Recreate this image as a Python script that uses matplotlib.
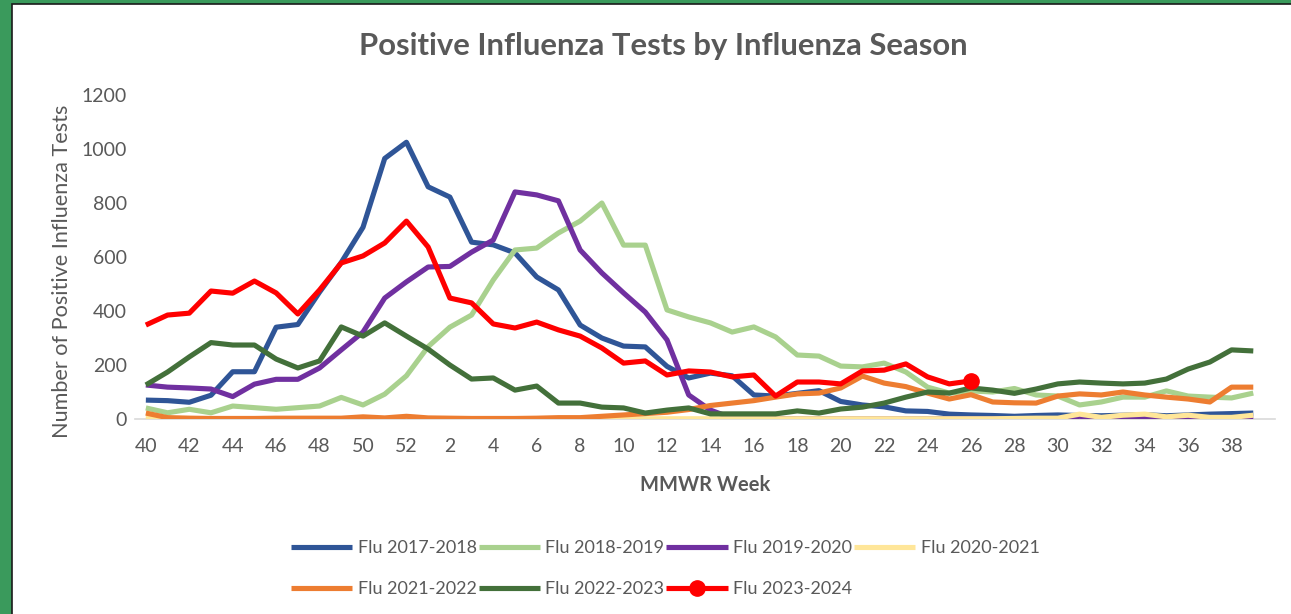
import numpy as np
import matplotlib
matplotlib.use("Agg")
from matplotlib import pyplot as plt
from matplotlib.patches import Rectangle
from matplotlib.legend_handler import HandlerLine2D

plt.rcParams['font.family'] = ['Lato', 'DejaVu Sans']

# MMWR weeks of the season (40..52, then 1..39)
weeks = list(range(40, 53)) + list(range(1, 40))

flu_2017_2018 = [70, 68, 62, 88, 175, 175, 340, 350, 470, 580,
                 710, 965, 1025, 860, 822, 655, 645, 615, 526, 478,
                 348, 300, 270, 267, 195, 152, 170, 160, 89, 85,
                 95, 105, 65, 52, 45, 30, 28, 18, 15, 13,
                 10, 13, 15, 13, 12, 14, 16, 12, 15, 18,
                 20, 22]
flu_2018_2019 = [41, 23, 36, 23, 48, 42, 36, 42, 48, 80,
                 52, 92, 160, 268, 340, 385, 515, 626, 633, 689,
                 733, 800, 644, 644, 404, 378, 356, 322, 341, 304,
                 237, 233, 196, 193, 207, 174, 118, 96, 104, 100,
                 113, 89, 85, 52, 63, 81, 81, 104, 85, 81,
                 78, 96]
flu_2019_2020 = [126, 118, 115, 111, 83, 129, 147, 147, 189, 256,
                 322, 448, 508, 563, 565, 618, 663, 841, 830, 808,
                 626, 541, 467, 396, 293, 89, 33, 3, 2, 2,
                 1, 1, 1, 1, 1, 1, 1, 1, 1, 1,
                 1, 1, 1, 10, 3, 5, 8, 3, 4, 2,
                 2, 4]
flu_2020_2021 = [10, 3, 2, 1, 1, 1, 1, 1, 1, 1,
                 1, 1, 1, 1, 1, 1, 1, 1, 1, 1,
                 1, 1, 1, 1, 1, 1, 1, 1, 1, 1,
                 1, 1, 1, 1, 1, 1, 1, 1, 1, 1,
                 2, 3, 3, 18, 6, 14, 18, 8, 14, 6,
                 6, 14]
flu_2021_2022 = [22, 5, 3, 2, 2, 2, 3, 3, 3, 3,
                 8, 4, 10, 4, 3, 2, 2, 2, 3, 5,
                 5, 10, 15, 20, 25, 35, 50, 59, 68, 81,
                 93, 96, 115, 159, 133, 120, 96, 74, 90, 63,
                 60, 59, 85, 93, 89, 100, 89, 81, 74, 63,
                 118, 118]
flu_2022_2023 = [126, 174, 230, 283, 274, 274, 222, 189, 215, 341,
                 307, 356, 307, 259, 200, 148, 152, 107, 122, 59,
                 59, 44, 41, 22, 33, 41, 19, 19, 19, 19,
                 30, 22, 37, 44, 59, 81, 100, 96, 115, 107,
                 95, 111, 130, 137, 133, 130, 133, 148, 185, 211,
                 256, 252]
# current season, through week 26
flu_2023_2024 = [348, 385, 392, 474, 466, 511, 467, 389, 478, 578,
                 604, 652, 733, 637, 448, 430, 352, 337, 359, 330,
                 307, 263, 207, 215, 163, 178, 174, 156, 163, 85,
                 137, 137, 130, 178, 181, 204, 156, 130, 141]

labels = ["Flu 2017-2018", "Flu 2018-2019", "Flu 2019-2020", "Flu 2020-2021",
          "Flu 2021-2022", "Flu 2022-2023", "Flu 2023-2024"]
colors = ["#2f5597", "#a9d18e", "#7030a0", "#ffe699",
          "#ed7d31", "#43703a", "#ff0000"]
series = [flu_2017_2018, flu_2018_2019, flu_2019_2020, flu_2020_2021,
          flu_2021_2022, flu_2022_2023, flu_2023_2024]

TXT = "#595959"


class EndMarkerHandler(HandlerLine2D):
    """Put the legend marker at the right end of the line sample."""
    def get_xdata(self, legend, xdescent, ydescent, width, height, fontsize):
        xdata, _ = super().get_xdata(legend, xdescent, ydescent,
                                     width, height, fontsize)
        return xdata, [-xdescent + width]


fig = plt.figure(figsize=(12.91, 6.14), dpi=100, facecolor="#3a9a5c")
# white chart area with thin dark border
fig.patches.append(Rectangle((12 / 1291, -0.01), 1.0, 1 - 4 / 614 + 0.01,
                             transform=fig.transFigure, facecolor="white",
                             edgecolor="#1a1a1a", linewidth=1.2, zorder=-5))

ax = fig.add_axes([135 / 1291, 1 - 419 / 614, 1140 / 1291, 324 / 614])
ax.set_facecolor("none")
ax.set_zorder(2)

x = np.arange(len(weeks))
handles = []
for vals, lab, col in zip(series, labels, colors):
    xs = x[:len(vals)]
    ln, = ax.plot(xs, vals, color=col, lw=3.7, label=lab,
                  solid_joinstyle="round", solid_capstyle="butt")
    handles.append(ln)

# marker on the latest reported week
red = handles[-1]
red.set_marker("o")
red.set_markevery([len(flu_2023_2024) - 1])
red.set_markersize(11)

ax.set_xlim(-0.5, 52.0)
ax.set_ylim(0, 1200)
ax.set_yticks(range(0, 1201, 200))
ax.set_xticks(x[::2])
ax.set_xticklabels([str(w) for w in weeks[::2]])

for s in ["top", "right", "left"]:
    ax.spines[s].set_visible(False)
ax.spines["bottom"].set_color("#d9d9d9")
ax.spines["bottom"].set_linewidth(1.2)
ax.spines["bottom"].set_zorder(0)
ax.tick_params(axis="both", length=0, labelsize=14, labelcolor=TXT)
ax.tick_params(axis="x", pad=14)
ax.tick_params(axis="y", pad=6)

ax.set_xlabel("MMWR Week", fontsize=14.5, fontweight="bold", color=TXT,
              labelpad=14)
ax.set_ylabel("Number of Positive Influenza Tests", fontsize=15.6, color=TXT)
ax.yaxis.set_label_coords(-0.055, 0.455)

fig.text(663 / 1291, 1 - 46 / 614, "Positive Influenza Tests by Influenza Season",
         ha="center", va="center", fontsize=22.3, fontweight="bold", color=TXT)

# legend fills column by column: reorder so it reads row by row
order = [0, 4, 1, 5, 2, 6, 3]
leg = fig.legend(handles=[handles[i] for i in order],
                 labels=[labels[i] for i in order], ncol=4,
                 loc="upper left", bbox_to_anchor=(291 / 1291, 1 - 540 / 614),
                 frameon=False, fontsize=13, labelcolor=TXT,
                 handlelength=3.4, handletextpad=0.3, columnspacing=0.1,
                 labelspacing=1.4, borderpad=0, borderaxespad=0,
                 handler_map={red: EndMarkerHandler()})

fig.savefig("out.png", dpi=100, facecolor=fig.get_facecolor())
